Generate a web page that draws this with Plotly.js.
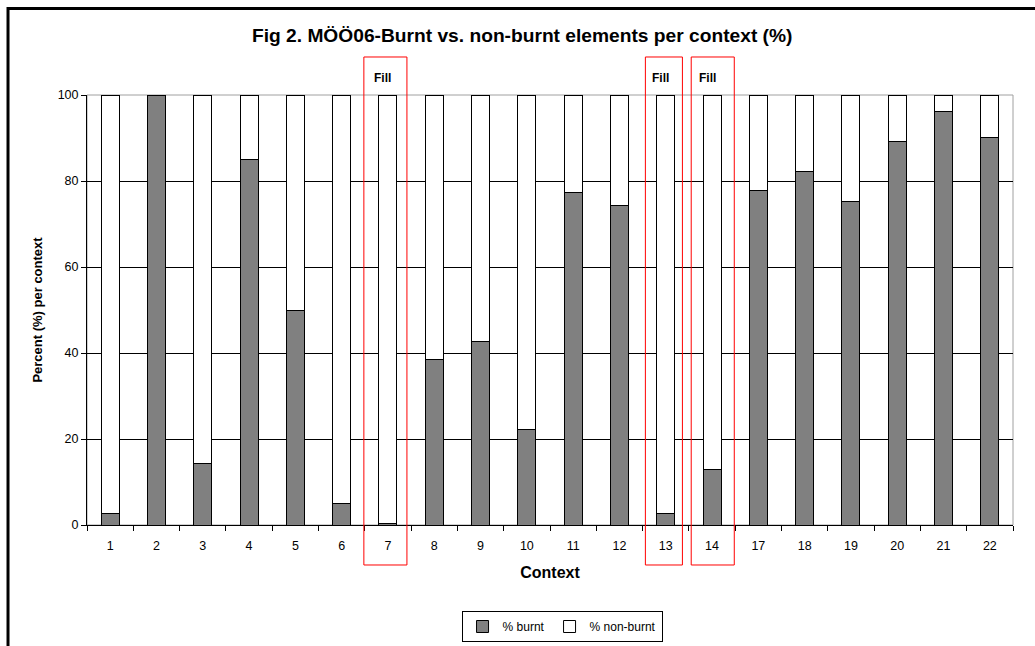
<!DOCTYPE html>
<html>
<head>
<meta charset="utf-8">
<script src="https://cdn.plot.ly/plotly-3.0.1.min.js"></script>
<style>html,body{margin:0;padding:0;background:#fff;}#chart{width:1035px;height:646px;}</style>
</head>
<body>
<div id="chart"></div>
<script>
// Data
var contexts = ['1','2','3','4','5','6','7','8','9','10','11','12','13','14','17','18','19','20','21','22'];
var burnt    = [2.6, 100, 14.3, 85.1, 50, 5, 0.4, 38.4, 42.7, 22.2, 77.4, 74.2, 2.6, 12.9, 77.8, 82.2, 75.3, 89.1, 96.1, 90.2];
var nonBurnt = [97.4, 0, 85.7, 14.9, 50, 95, 99.6, 61.6, 57.3, 77.8, 22.6, 25.8, 97.4, 87.1, 22.2, 17.8, 24.7, 10.9, 3.9, 9.8];
var fillContexts = ['7','13','14'];
var fillLabel = 'Fill';

var FONT = 'Arial, "Liberation Sans", sans-serif';

var traces = [
  {type:'bar', name:'% burnt', x:contexts, y:burnt,
   marker:{color:'#808080', line:{color:'#000000', width:1}}, hoverinfo:'x+y'},
  {type:'bar', name:'% non-burnt', x:contexts, y:nonBurnt,
   marker:{color:'#ffffff', line:{color:'#000000', width:1}}, hoverinfo:'x+y'}
];

// red "Fill" boxes (x extents relative to the category centre, in category units)
var boxExtents = {'7':[-0.52,0.41], '13':[-0.44,0.36], '14':[-0.45,0.48]};
var shapes = [
  // plot area border (grey)
  {type:'rect', xref:'paper', yref:'paper', x0:0, x1:1, y0:0, y1:1,
   line:{color:'#a0a0a0', width:1}, layer:'between'},
  // outer chart frame
  {type:'rect', xref:'paper', yref:'paper', x0:-0.0853, x1:1.04, y0:-0.30, y1:1.2012,
   line:{color:'#000000', width:3}, layer:'above'}
];
var annotations = [];
fillContexts.forEach(function(c){
  var idx = contexts.indexOf(c);
  var e = boxExtents[c];
  shapes.push({type:'rect', xref:'x', yref:'paper', x0:idx+e[0], x1:idx+e[1],
    y0:-0.093, y1:1.0884, line:{color:'#ff0000', width:1}, fillcolor:'rgba(0,0,0,0)', layer:'above'});
  annotations.push({xref:'x', yref:'paper', x:idx, y:1.0395, yanchor:'middle', xanchor:'center',
    text:'<b>'+fillLabel+'</b>', showarrow:false, xshift:-5, font:{family:FONT, size:12, color:'#000'}});
});

var layout = {
  width:1035, height:646,
  margin:{l:87, r:22, t:95, b:121, autoexpand:false},
  paper_bgcolor:'#ffffff', plot_bgcolor:'#ffffff',
  barmode:'stack', bargap:0.61,
  font:{family:FONT, size:12, color:'#000'},
  title:{text:'<b>Fig 2. MÖÖ06-Burnt vs. non-burnt elements per context (%)</b>',
         x:0.47, xref:'paper', xanchor:'center', y:0.946, yref:'container', yanchor:'middle',
         font:{family:FONT, size:19.2, color:'#000'}},
  xaxis:{type:'category', showgrid:false, showline:true, linecolor:'#000', linewidth:1,
         ticks:'outside', tickson:'boundaries', ticklen:5, tickcolor:'#000',
         tickfont:{family:FONT, size:12.5}, automargin:false, ticklabelstandoff:9,
         title:{text:'<b>Context</b>', font:{family:FONT, size:16}, standoff:14}},
  yaxis:{range:[0,100], dtick:20, showgrid:true, gridcolor:'#000', gridwidth:1,
         showline:true, linecolor:'#000', linewidth:1, zeroline:false,
         ticks:'outside', ticklen:5, tickcolor:'#000',
         tickfont:{family:FONT, size:12.5}, automargin:false,
         title:{text:'<b>Percent (%) per context</b>', font:{family:FONT, size:13}, standoff:12}},
  showlegend:true,
  legend:{orientation:'h', traceorder:'normal', x:0.513, xanchor:'center', y:-0.20, yanchor:'top',
          bordercolor:'#000', borderwidth:1, font:{family:FONT, size:12}, itemwidth:30,
          bgcolor:'#fff'},
  shapes:shapes, annotations:annotations
};

Plotly.newPlot('chart', traces, layout, {displayModeBar:false, staticPlot:true});
</script>
</body>
</html>
